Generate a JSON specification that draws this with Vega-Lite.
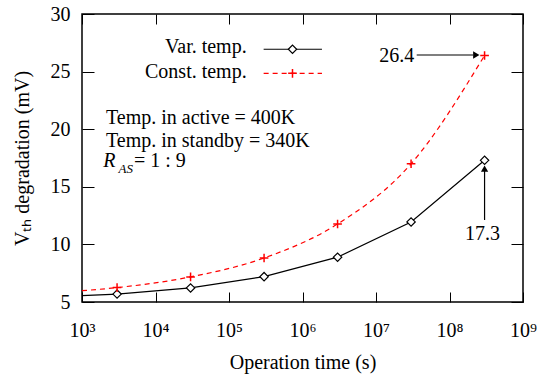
{
  "$schema": "https://vega.github.io/schema/vega-lite/v6.json",
  "width": 441,
  "height": 288,
  "autosize": {"type": "none"},
  "padding": {"left": 82, "top": 14, "right": 15, "bottom": 75},
  "background": "white",
  "config": {
    "view": {"stroke": "black", "strokeWidth": 1.5},
    "font": "Liberation Serif",
    "axis": {
      "domain": false,
      "grid": false,
      "tickColor": "black",
      "tickWidth": 1,
      "labelFont": "Liberation Serif",
      "labelFontSize": 20,
      "labelColor": "black",
      "titleFont": "Liberation Serif",
      "titleFontSize": 20,
      "titleFontWeight": "normal",
      "titleColor": "black",
      "labelFlush": false,
      "labelOverlap": false
    }
  },
  "datasets": {
    "series": [
      {"t": 1000, "v": 5.55, "s": "Var. temp."},
      {"t": 3000, "v": 5.69, "s": "Var. temp."},
      {"t": 30000, "v": 6.22, "s": "Var. temp."},
      {"t": 300000, "v": 7.2, "s": "Var. temp."},
      {"t": 3000000, "v": 8.89, "s": "Var. temp."},
      {"t": 30000000, "v": 11.95, "s": "Var. temp."},
      {"t": 300000000, "v": 17.3, "s": "Var. temp."},
      {"t": 1000, "v": 5.98, "s": "Const. temp."},
      {"t": 3000, "v": 6.25, "s": "Const. temp."},
      {"t": 30000, "v": 7.18, "s": "Const. temp."},
      {"t": 300000, "v": 8.82, "s": "Const. temp."},
      {"t": 3000000, "v": 11.77, "s": "Const. temp."},
      {"t": 30000000, "v": 17.0, "s": "Const. temp."},
      {"t": 300000000, "v": 26.4, "s": "Const. temp."}
    ],
    "legend": [
      {"s": "Var. temp.", "x1": 296000, "x2": 1840000, "xm": 731000, "y": 26.94, "xt": 174000, "yt": 26.59},
      {"s": "Const. temp.", "x1": 296000, "x2": 1840000, "xm": 731000, "y": 24.85, "xt": 174000, "yt": 24.42}
    ],
    "notes": [
      {"x": 2120, "y": 20.45, "text": "Temp. in active = 400K"},
      {"x": 2120, "y": 18.48, "text": "Temp. in standby = 340K"},
      {"x": 5100, "y": 16.69, "text": "= 1 : 9"}
    ],
    "italics": [
      {"x": 1950, "y": 16.69, "text": "R"}
    ],
    "subs": [
      {"x": 3140, "y": 16.2, "text": "AS"}
    ],
    "arrows": [
      {"x1": 35800000, "x2": 209000000, "y1": 26.44, "y2": 26.44},
      {"x1": 300000000, "x2": 300000000, "y1": 12.12, "y2": 16.46}
    ],
    "heads": [
      {"x": 231500000, "y": 26.44, "dir": "triangle-right"},
      {"x": 300000000, "y": 16.58, "dir": "triangle-up"}
    ],
    "rlabels": [
      {"x": 33200000, "y": 25.86, "text": "26.4"}
    ],
    "clabels": [
      {"x": 281000000, "y": 10.38, "text": "17.3"}
    ]
  },
  "resolve": {"axis": {"x": "independent", "y": "independent"}},
  "layer": [
    {
      "data": {"name": "series"},
      "transform": [{"filter": "datum.s == 'Var. temp.'"}],
      "mark": {"type": "line", "color": "black", "strokeWidth": 1.2},
      "encoding": {
        "x": {"field": "t", "type": "quantitative",
          "scale": {"type": "log", "domain": [1000, 1000000000], "nice": false},
          "axis": {"orient": "bottom", "title": "Operation time (s)", "values": [1000, 10000, 100000, 1000000, 10000000, 100000000, 1000000000],
            "tickSize": -10, "labelPadding": 28,
            "labelExpr": "'10' + ['⁰','¹','²','³','⁴','⁵','⁶','⁷','⁸','⁹'][round(log(datum.value)/LN10)]",
            "titleBaseline": "alphabetic", "titleY": 66}},
        "y": {"field": "v", "type": "quantitative",
          "scale": {"domain": [5, 30], "nice": false, "zero": false},
          "axis": {"orient": "left", "title": "Vₜₕ degradation (mV)", "values": [5, 10, 15, 20, 25, 30],
            "tickSize": -12, "labelPadding": 24,
            "titleAngle": -90, "titleX": -53.5, "titleY": 144, "titleAlign": "center", "titleBaseline": "alphabetic"}}
      }
    },
    {
      "data": {"name": "series"},
      "transform": [{"filter": "datum.s == 'Const. temp.'"}],
      "mark": {"type": "line", "color": "#ff0000", "strokeWidth": 1.2, "strokeDash": [5, 4], "interpolate": "monotone"},
      "encoding": {
        "x": {"field": "t", "type": "quantitative",
          "axis": {"orient": "top", "title": null, "labels": false, "values": [1000, 10000, 100000, 1000000, 10000000, 100000000, 1000000000], "tickSize": -10}},
        "y": {"field": "v", "type": "quantitative",
          "axis": {"orient": "right", "title": null, "labels": false, "values": [5, 10, 15, 20, 25, 30], "tickSize": -12}}
      }
    },
    {
      "data": {"name": "series"},
      "transform": [{"filter": "datum.s == 'Var. temp.' && datum.t > 1000"}],
      "mark": {"type": "point", "shape": "diamond", "filled": true, "fill": "white", "stroke": "black", "strokeWidth": 1.2, "size": 70, "opacity": 1},
      "encoding": {
        "x": {"field": "t", "type": "quantitative", "axis": null},
        "y": {"field": "v", "type": "quantitative", "axis": null}
      }
    },
    {
      "data": {"name": "series"},
      "transform": [{"filter": "datum.s == 'Const. temp.' && datum.t > 1000"}],
      "mark": {"type": "point", "shape": "M-1,0L1,0M0,-1L0,1", "filled": false, "color": "#ff0000", "strokeWidth": 1.5, "size": 75, "opacity": 1},
      "encoding": {
        "x": {"field": "t", "type": "quantitative", "axis": null},
        "y": {"field": "v", "type": "quantitative", "axis": null}
      }
    },
    {
      "data": {"name": "legend"},
      "mark": {"type": "rule", "strokeWidth": 1.2},
      "encoding": {
        "x": {"field": "x1", "type": "quantitative", "axis": null},
        "x2": {"field": "x2"},
        "y": {"field": "y", "type": "quantitative", "axis": null},
        "color": {"field": "s", "type": "nominal", "scale": {"domain": ["Var. temp.", "Const. temp."], "range": ["black", "#ff0000"]}, "legend": null},
        "strokeDash": {"field": "s", "type": "nominal", "scale": {"domain": ["Var. temp.", "Const. temp."], "range": [[1, 0], [5, 4]]}, "legend": null}
      }
    },
    {
      "data": {"name": "legend"},
      "transform": [{"filter": "datum.s == 'Var. temp.'"}],
      "mark": {"type": "point", "shape": "diamond", "filled": true, "fill": "white", "stroke": "black", "strokeWidth": 1.2, "size": 70, "opacity": 1},
      "encoding": {
        "x": {"field": "xm", "type": "quantitative", "axis": null},
        "y": {"field": "y", "type": "quantitative", "axis": null}
      }
    },
    {
      "data": {"name": "legend"},
      "transform": [{"filter": "datum.s == 'Const. temp.'"}],
      "mark": {"type": "point", "shape": "M-1,0L1,0M0,-1L0,1", "filled": false, "color": "#ff0000", "strokeWidth": 1.5, "size": 75, "opacity": 1},
      "encoding": {
        "x": {"field": "xm", "type": "quantitative", "axis": null},
        "y": {"field": "y", "type": "quantitative", "axis": null}
      }
    },
    {
      "data": {"name": "legend"},
      "mark": {"type": "text", "align": "right", "baseline": "alphabetic", "fontSize": 20, "font": "Liberation Serif", "color": "black"},
      "encoding": {
        "x": {"field": "xt", "type": "quantitative", "axis": null},
        "y": {"field": "yt", "type": "quantitative", "axis": null},
        "text": {"field": "s"}
      }
    },
    {
      "data": {"name": "notes"},
      "mark": {"type": "text", "align": "left", "baseline": "alphabetic", "fontSize": 20, "font": "Liberation Serif", "color": "black"},
      "encoding": {
        "x": {"field": "x", "type": "quantitative", "axis": null},
        "y": {"field": "y", "type": "quantitative", "axis": null},
        "text": {"field": "text"}
      }
    },
    {
      "data": {"name": "italics"},
      "mark": {"type": "text", "align": "left", "baseline": "alphabetic", "fontSize": 20, "fontStyle": "italic", "font": "Liberation Serif", "color": "black"},
      "encoding": {
        "x": {"field": "x", "type": "quantitative", "axis": null},
        "y": {"field": "y", "type": "quantitative", "axis": null},
        "text": {"field": "text"}
      }
    },
    {
      "data": {"name": "subs"},
      "mark": {"type": "text", "align": "left", "baseline": "alphabetic", "fontSize": 13, "fontStyle": "italic", "font": "Liberation Serif", "color": "black"},
      "encoding": {
        "x": {"field": "x", "type": "quantitative", "axis": null},
        "y": {"field": "y", "type": "quantitative", "axis": null},
        "text": {"field": "text"}
      }
    },
    {
      "data": {"name": "arrows"},
      "mark": {"type": "rule", "color": "black", "strokeWidth": 1.2},
      "encoding": {
        "x": {"field": "x1", "type": "quantitative", "axis": null},
        "x2": {"field": "x2"},
        "y": {"field": "y1", "type": "quantitative", "axis": null},
        "y2": {"field": "y2"}
      }
    },
    {
      "data": {"name": "heads"},
      "mark": {"type": "point", "filled": true, "color": "black", "size": 53, "opacity": 1},
      "encoding": {
        "x": {"field": "x", "type": "quantitative", "axis": null},
        "y": {"field": "y", "type": "quantitative", "axis": null},
        "shape": {"field": "dir", "type": "nominal", "scale": null}
      }
    },
    {
      "data": {"name": "rlabels"},
      "mark": {"type": "text", "align": "right", "baseline": "alphabetic", "fontSize": 20, "font": "Liberation Serif", "color": "black"},
      "encoding": {
        "x": {"field": "x", "type": "quantitative", "axis": null},
        "y": {"field": "y", "type": "quantitative", "axis": null},
        "text": {"field": "text"}
      }
    },
    {
      "data": {"name": "clabels"},
      "mark": {"type": "text", "align": "center", "baseline": "alphabetic", "fontSize": 20, "font": "Liberation Serif", "color": "black"},
      "encoding": {
        "x": {"field": "x", "type": "quantitative", "axis": null},
        "y": {"field": "y", "type": "quantitative", "axis": null},
        "text": {"field": "text"}
      }
    }
  ]
}
